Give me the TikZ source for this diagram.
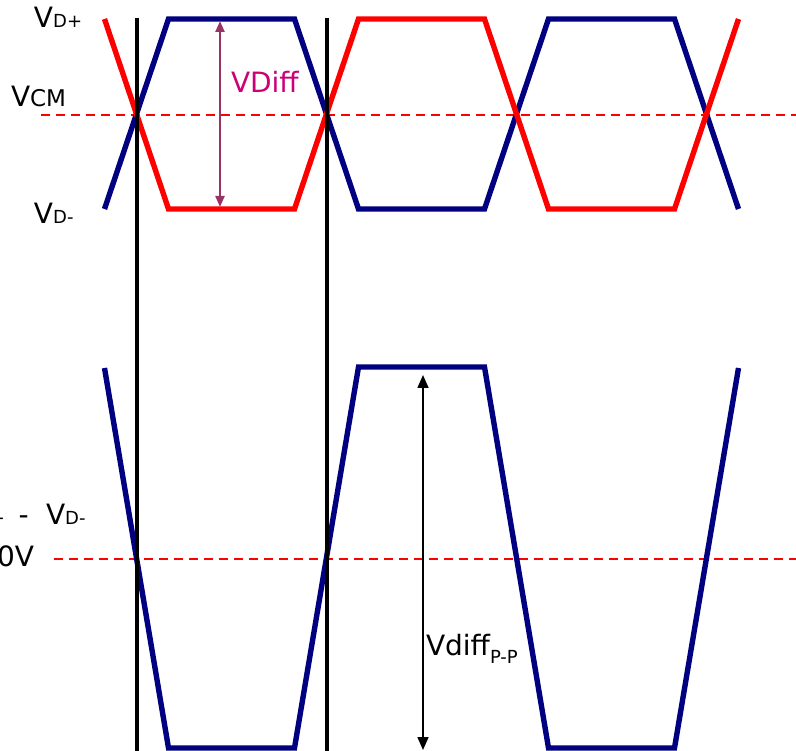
\documentclass[tikz,border=0pt]{standalone}
\usepackage{fontspec}
\setmainfont{DejaVu Sans}
\usetikzlibrary{arrows.meta}
\definecolor{navy}{RGB}{0,0,128}
\definecolor{sigred}{RGB}{255,0,0}
\definecolor{diffarrow}{RGB}{153,51,102}
\definecolor{difftext}{RGB}{204,0,119}
\newcommand{\lblbig}{\fontsize{28}{30}\selectfont}
\newcommand{\lblsub}{\fontsize{18}{20}\selectfont}
\begin{document}
\begin{tikzpicture}[x=1pt,y=-1pt,
  wave/.style={line width=5.4pt, line join=miter},
  redwave/.style={wave, draw=sigred},
  bluewave/.style={wave, draw=navy},
  refline/.style={draw=sigred, line width=2.6pt, dash pattern=on 9pt off 6pt},
  marker/.style={draw=black, line width=3.2pt},
  lbl/.style={inner sep=0pt, outer sep=0pt, font=\lblbig}
]
\useasboundingbox (0,0) rectangle (796,751);

% ---- top: differential pair ----
\draw[refline] (41,115) -- (796,115);
\draw[bluewave] (104.5,209) -- (168.5,19) -- (294.5,19) -- (358.5,209) -- (484.5,209) -- (548.5,19) -- (674.5,19) -- (738.5,209);
\draw[redwave] (104.5,19) -- (168.5,209) -- (294.5,209) -- (358.5,19) -- (484.5,19) -- (548.5,209) -- (674.5,209) -- (738.5,19);

\coordinate (dtop) at (220,21);
\coordinate (dbot) at (220,207);
\draw[draw=diffarrow, line width=2.2pt, {Triangle[length=11pt,width=9pt]}-{Triangle[length=11pt,width=9pt]}] (dtop) -- (dbot);

\node[lbl, anchor=base west] (vdp) at (34,28) {V{\lblsub D+}};
\node[lbl, anchor=base west] (vcm) at (11,107) {V{\fontsize{23}{24}\selectfont CM}};
\node[lbl, anchor=base west] (vdm) at (34,224) {V{\lblsub D-}};
\node[lbl, anchor=base west, text=difftext] (vdiff) at (231,93) {VDiff};

% ---- bottom: difference signal ----
\draw[refline] (54,559) -- (796,559);
\draw[bluewave] (104.5,368) -- (168.5,748) -- (294.5,748) -- (358.5,367) -- (484.5,367) -- (548.5,748) -- (674.5,748) -- (738.5,368);

\coordinate (ptop) at (423,375);
\coordinate (pbot) at (423,750);
\draw[draw=black, line width=1.6pt, {Triangle[length=13pt,width=11pt]}-{Triangle[length=13pt,width=11pt]}] (ptop) -- (pbot);
\node[lbl, anchor=base west] (vpp) at (426,655) {Vdiff\raisebox{-8pt}{\lblsub P-P}};

\node[lbl, anchor=base east] (bdp) at (5,525) {V{\lblsub D+}};
\node[lbl, anchor=base west] (bdash) at (18.7,525) {-};
\node[lbl, anchor=base west] (bdm) at (46,525) {V{\lblsub D-}};
\node[lbl, anchor=base east] (zero) at (34,566) {0V};

% ---- crossing markers ----
\coordinate (m1t) at (137,18);
\coordinate (m1b) at (137,751);
\coordinate (m2t) at (327,18);
\coordinate (m2b) at (327,751);
\draw[marker] (m1t) -- (m1b);
\draw[marker] (m2t) -- (m2b);
\end{tikzpicture}
\end{document}
